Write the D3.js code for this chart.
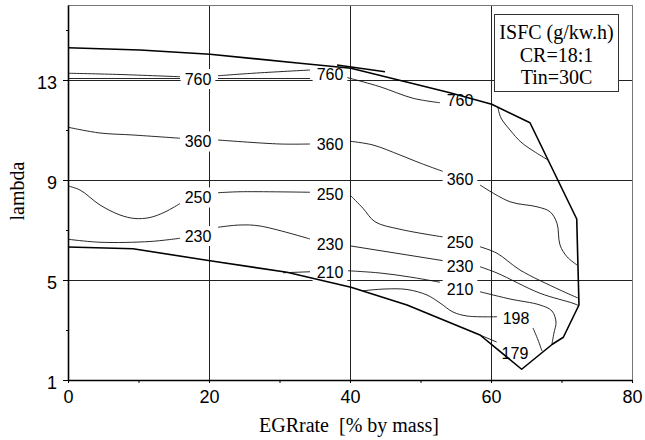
<!DOCTYPE html>
<html>
<head>
<meta charset="utf-8">
<script src="https://cdn.jsdelivr.net/npm/d3@7"></script>
<style>
  body { margin: 0; background: #fff; }
  svg text { fill: #000; }
</style>
</head>
<body>
<svg id="chart" width="645" height="440"></svg>
<script>
// axis ticks
var xTicks = [0, 20, 40, 60, 80],
    xMinor = [10, 30, 50, 70],
    yTicks = [1, 5, 9, 13],
    yMinor = [3, 7, 11, 15];

// operating range boundary (EGR %, lambda)
var boundary = [[0, 14.29], [10.21, 14.2], [20.14, 14.03], [32.91, 13.67], [40.14, 13.47],
    [54.18, 12.49], [60.1, 12.03], [65.53, 11.29], [72.16, 7.44], [72.48, 4.0],
    [70.26, 2.71], [68.7, 2.43], [64.35, 1.43], [58.44, 2.8], [48.09, 4.0],
    [40.14, 4.71], [31.06, 5.31], [20.14, 5.77], [9.22, 6.25], [0, 6.32]];
var strayLine = [[38.16, 13.6], [44.96, 13.33]];

// ISFC contour lines, each one a list of segments broken at the labels
var iso760a = [
    [[0, 13.27], [7.38, 13.22], [15.89, 13.13]],
    [[21.28, 13.17], [26.24, 13.27], [34.33, 13.4]]];
var iso760b = [
    [[0, 13.06], [15.89, 13.06]],
    [[21.28, 13.06], [34.33, 13.06]],
    [[39.57, 13.1], [44.26, 12.73], [48.94, 12.27], [52.77, 12.09]],
    [[60.99, 11.88], [61.42, 11.48], [62.7, 11.0], [64.4, 10.48], [68.09, 9.8]]];
var iso360 = [
    [[0, 11.11], [4.54, 10.88], [9.22, 10.8], [15.89, 10.67]],
    [[21.28, 10.6], [30.07, 10.44], [34.33, 10.44]],
    [[40, 10.55], [43.26, 10.4], [47.09, 10.0], [49.93, 9.68], [53.9, 9.27]],
    [[58.44, 8.8], [62.7, 8.13], [66.52, 7.93], [68.37, 7.73], [69.36, 7.27],
     [69.79, 6.4], [70.78, 5.93], [72.2, 5.6]]];
var iso250 = [
    [[0, 8.76], [1.7, 8.6], [4.54, 8.0], [7.38, 7.6], [9.5, 7.46], [11.63, 7.5],
     [13.76, 7.72], [15.89, 8.06]],
    [[21.28, 8.49], [24.4, 8.53], [34.33, 8.51]],
    [[40.14, 8.36], [41.84, 7.87], [43.55, 7.33], [47.09, 7.03], [53.9, 6.69]],
    [[58.44, 6.33], [60.85, 6.07], [64.11, 5.4], [69.79, 4.6], [72.34, 4.28]]];
var iso230 = [
    [[0, 6.63], [4.54, 6.51], [11.63, 6.54], [15.89, 6.67]],
    [[21.28, 7.11], [24.4, 7.2], [27.23, 7.16], [34.33, 6.64]],
    [[40.14, 6.36], [54.18, 5.73]],
    [[58.44, 5.53], [60.85, 5.28], [66.95, 4.47], [71.63, 4.07], [72.41, 3.98]]];
var iso210 = [
    [[30.5, 5.29], [34.33, 5.33]],
    [[39.72, 5.37], [44.26, 5.28], [48.51, 5.12], [52.77, 4.91]],
    [[58.44, 4.53], [62.7, 4.24], [66.95, 4.0], [68.65, 3.76], [69.22, 3.32],
     [68.93, 2.88], [68.65, 2.44]]];
var iso198 = [
    [[41.84, 4.57], [44.96, 4.64], [48.09, 4.62], [50.92, 4.4], [52.77, 4.08],
     [54.61, 3.72], [56.6, 3.56], [60.85, 3.53]],
    [[65.96, 3.08], [66.67, 2.6], [67.23, 2.16]]];
var iso179 = [
    [[58.44, 2.8], [60.8, 2.52]]];

// contour labels: [EGR %, lambda, text]
var contourLabels = [
    [18.44, 13.04, "760"], [18.44, 10.54, "360"], [18.44, 8.3, "250"], [18.44, 6.76, "230"],
    [37.16, 13.25, "760"], [37.16, 10.44, "360"], [37.16, 8.44, "250"], [37.16, 6.42, "230"],
    [37.16, 5.3, "210"],
    [55.6, 12.18, "760"], [55.6, 9.04, "360"], [55.6, 6.5, "250"], [55.6, 5.56, "230"],
    [55.6, 4.64, "210"],
    [63.55, 3.48, "198"], [63.4, 2.08, "179"]];

var legendLines = ["ISFC (g/kw.h)", "CR=18:1", "Tin=30C"];

var svg = d3.select("#chart");

var x = d3.scaleLinear().domain([0, 80]).range([68, 632]);
var y = d3.scaleLinear().domain([1, 16]).range([380, 5]);

var line = d3.line()
    .x(function(d) { return x(d[0]); })
    .y(function(d) { return y(d[1]); });
var smooth = d3.line()
    .x(function(d) { return x(d[0]); })
    .y(function(d) { return y(d[1]); })
    .curve(d3.curveCatmullRom.alpha(0.5));

// grid
var grid = svg.append("g")
    .attr("stroke", "#222")
    .attr("stroke-width", 1)
    .attr("shape-rendering", "crispEdges");
[20, 40, 60].forEach(function(v) {
    grid.append("line")
        .attr("x1", x(v)).attr("x2", x(v))
        .attr("y1", y(1)).attr("y2", y(16));
});
[5, 9, 13].forEach(function(v) {
    grid.append("line")
        .attr("x1", x(0)).attr("x2", x(80))
        .attr("y1", y(v)).attr("y2", y(v));
});

// top and right frame
svg.append("path")
    .attr("d", "M" + x(0) + "," + y(16) + "H" + x(80) + "V" + y(1))
    .attr("fill", "none")
    .attr("stroke", "#777")
    .attr("shape-rendering", "crispEdges");

// contours
var isoLines = [iso760a, iso760b, iso360, iso250, iso230, iso210, iso198, iso179];
var contourG = svg.append("g")
    .attr("fill", "none")
    .attr("stroke", "#111")
    .attr("stroke-width", 0.9);
isoLines.forEach(function(segs) {
    segs.forEach(function(seg) {
        contourG.append("path").attr("d", smooth(seg));
    });
});

// contour labels with white backing (they break the grid lines)
var labelG = svg.append("g");
contourLabels.forEach(function(d) {
    var g = labelG.append("g");
    var t = g.append("text")
        .attr("x", x(d[0]))
        .attr("y", y(d[1]))
        .attr("dy", "0.36em")
        .attr("text-anchor", "middle")
        .attr("font-family", "Liberation Sans, Arial, sans-serif")
        .attr("font-size", 16)
        .text(d[2]);
    var w = t.node().getComputedTextLength();
    g.insert("rect", "text")
        .attr("x", x(d[0]) - w / 2 - 4)
        .attr("y", y(d[1]) - 10)
        .attr("width", w + 8)
        .attr("height", 20)
        .attr("fill", "#fff");
});

// boundary of the operating range
svg.append("path")
    .attr("d", line(boundary))
    .attr("fill", "none")
    .attr("stroke", "#000")
    .attr("stroke-width", 1.6)
    .attr("stroke-linejoin", "round");
svg.append("path")
    .attr("d", line(strayLine))
    .attr("fill", "none")
    .attr("stroke", "#000")
    .attr("stroke-width", 1.3);

// legend box
var legend = svg.append("g");
legend.append("rect")
    .attr("x", 494.5).attr("y", 14.5)
    .attr("width", 124).attr("height", 77)
    .attr("fill", "#fff")
    .attr("stroke", "#333");
legend.selectAll("text")
    .data(legendLines)
    .enter().append("text")
    .attr("x", 556.5)
    .attr("y", function(d, i) { return 39 + i * 22.5; })
    .attr("text-anchor", "middle")
    .attr("font-family", "Liberation Serif, Times New Roman, serif")
    .attr("font-size", 20)
    .text(function(d) { return d; });

// axes
var xAxis = svg.append("g")
    .attr("transform", "translate(0," + y(1) + ")")
    .call(d3.axisBottom(x).tickValues(xTicks).tickSize(3).tickSizeOuter(0).tickPadding(7.5));
svg.append("g")
    .attr("transform", "translate(0," + y(1) + ")")
    .call(d3.axisBottom(x).tickValues(xMinor).tickSize(3).tickFormat(""))
    .select(".domain").remove();

var yAxis = svg.append("g")
    .attr("transform", "translate(" + x(0) + ",0)")
    .call(d3.axisLeft(y).tickValues(yTicks).tickSize(5).tickSizeOuter(0).tickPadding(6));
svg.append("g")
    .attr("transform", "translate(" + x(0) + ",0)")
    .call(d3.axisLeft(y).tickValues(yMinor).tickSize(2).tickFormat(""))
    .select(".domain").remove();

svg.selectAll(".domain").attr("stroke", "#000").attr("stroke-width", 1.6);
svg.selectAll(".tick line").attr("stroke", "#000");
svg.selectAll(".tick text")
    .attr("font-family", "Liberation Sans, Arial, sans-serif")
    .attr("font-size", 18)
    .attr("fill", "#000");
yAxis.selectAll(".tick text").attr("dy", "0.46em");

// axis titles
svg.append("text")
    .attr("x", 349)
    .attr("y", 431.5)
    .attr("text-anchor", "middle")
    .attr("font-family", "Liberation Serif, Times New Roman, serif")
    .attr("font-size", 20)
    .style("white-space", "pre")
    .text("EGRrate  [% by mass]");

svg.append("text")
    .attr("transform", "translate(24,191) rotate(-90)")
    .attr("text-anchor", "middle")
    .attr("font-family", "Liberation Serif, Times New Roman, serif")
    .attr("font-size", 20)
    .text("lambda");
</script>
</body>
</html>
